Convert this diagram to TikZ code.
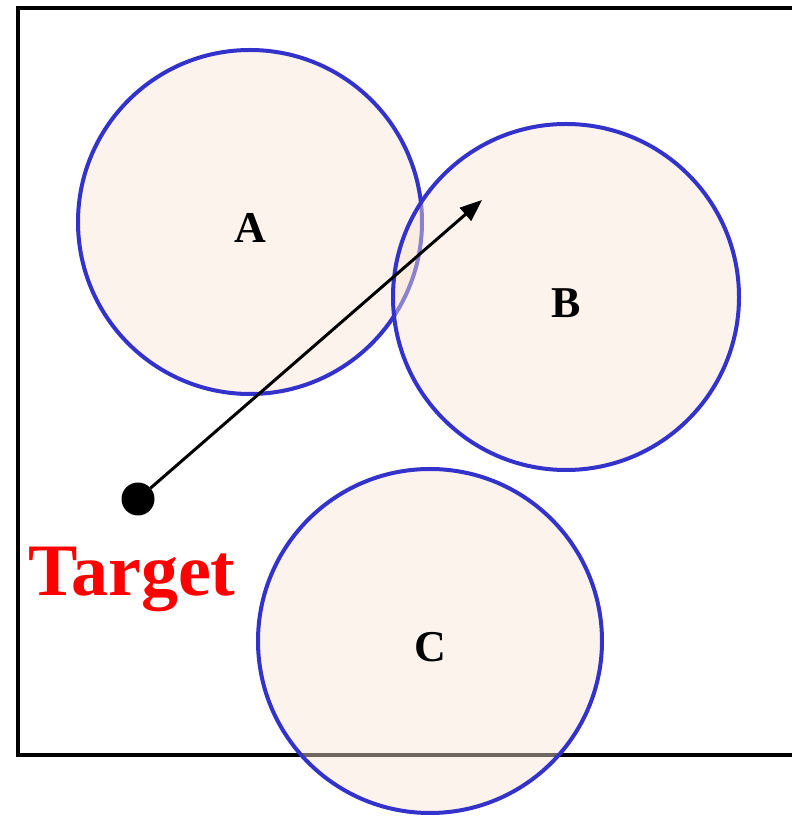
\documentclass[tikz,border=0pt]{standalone}
\usepackage{fontspec}
\setmainfont{Liberation Serif}
\usetikzlibrary{arrows.meta}
\definecolor{zoneline}{RGB}{51,51,204}
\definecolor{zonefill}{RGB}{248,228,212}
\begin{document}
\begin{tikzpicture}[x=1pt,y=1pt,
  zone/.style={circle, draw=zoneline, line width=4pt, fill=zonefill, fill opacity=0.45, text opacity=1, minimum size=344pt, inner sep=0pt, text height=42pt, text depth=0pt, font=\fontsize{44}{50}\selectfont\bfseries},
  border/.style={line width=4pt},
  move/.style={line width=3pt, -{Triangle[length=22pt,width=17pt]}}]
\useasboundingbox (0,0) rectangle (792,817);
\draw[border] (800,809) -- (18,809) -- (18,62) -- (800,62);
\node[zone] (A) at (250,595) {A};
\node[zone, minimum size=346pt] (B) at (566,520) {B};
\node[zone] (C) at (430,176) {C};
\node[circle, fill=black, minimum size=33pt, inner sep=0pt] (target) at (138,318) {};
\coordinate (goal) at (482,617);
\draw[move] (target) -- (goal);
\node[text=red, font=\fontsize{74}{80}\selectfont\bfseries] (label) at (132,238) {Target};
\end{tikzpicture}
\end{document}
